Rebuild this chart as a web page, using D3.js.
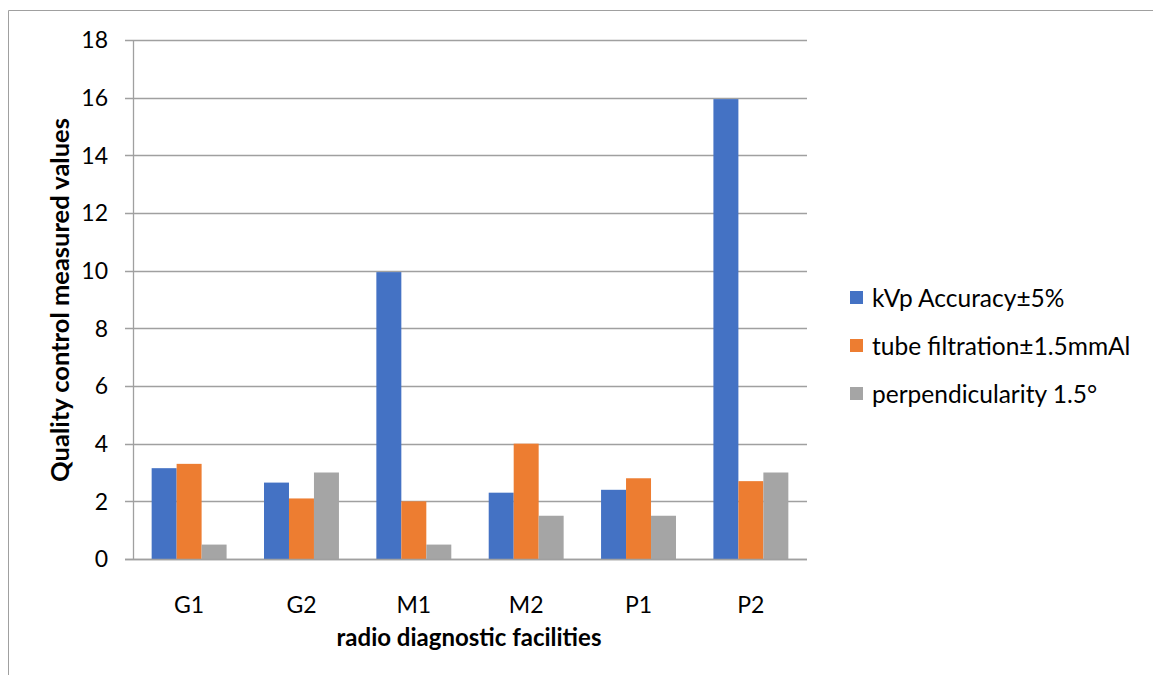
<!DOCTYPE html>
<html>
<head>
    <script src="https://d3js.org/d3.v7.min.js"></script>
    <style>
        body { margin: 0; background: #fff; }
        text { font-family: Lato, "Open Sans", sans-serif; fill: #000; }
    </style>
</head>
<body>
    <div id="chart"></div>
    <script>
        // data
        var facilities = ["G1", "G2", "M1", "M2", "P1", "P2"];
        var seriesNames = ["kVp Accuracy±5%", "tube filtration±1.5mmAl", "perpendicularity 1.5°"];
        var kvpAccuracy = [3.15, 2.65, 9.95, 2.3, 2.4, 15.95];
        var tubeFiltration = [3.3, 2.1, 2.0, 4.0, 2.8, 2.7];
        var perpendicularity = [0.5, 3.0, 0.5, 1.5, 1.5, 3.0];
        var yTicks = [0, 2, 4, 6, 8, 10, 12, 14, 16, 18];
        var colors = ["#4472c4", "#ed7d31", "#a5a5a5"];

        function program() {
            var width = 1153, height = 675;
            var svg = d3.select("#chart").append("svg")
                .attr("width", width)
                .attr("height", height);

            // outer frame (runs off right and bottom edges)
            svg.append("path")
                .attr("d", "M8.5,675 V10.5 H1153")
                .attr("fill", "none")
                .attr("stroke", "#a0a0a0")
                .attr("stroke-width", 1);

            var pLeft = 133, pRight = 807, pTop = 40, pBottom = 559;

            var x = d3.scaleBand().domain(facilities).range([pLeft, pRight]).paddingInner(0.333).paddingOuter(0.166);
            var xs = d3.scaleBand().domain([0, 1, 2]).range([0, x.bandwidth()]);
            var y = d3.scaleLinear().domain([0, 18]).range([pBottom, pTop]);

            // gridlines
            svg.append("g").selectAll("line")
                .data(yTicks)
                .join("line")
                .attr("x1", pLeft - 8).attr("x2", pRight)
                .attr("y1", d => Math.round(y(d)) + 0.5)
                .attr("y2", d => Math.round(y(d)) + 0.5)
                .attr("stroke", "#a0a0a0")
                .attr("stroke-width", 1.3);

            // y axis line
            svg.append("line")
                .attr("x1", pLeft + 0.5).attr("x2", pLeft + 0.5)
                .attr("y1", pTop).attr("y2", pBottom)
                .attr("stroke", "#a0a0a0")
                .attr("stroke-width", 1.3);

            // y tick labels
            svg.append("g").selectAll("text")
                .data(yTicks)
                .join("text")
                .attr("x", 108)
                .attr("y", d => y(d))
                .attr("dy", "0.36em")
                .attr("text-anchor", "end")
                .style("font-size", "23px")
                .text(d => d);

            var series = [kvpAccuracy, tubeFiltration, perpendicularity];
            var rows = [];
            facilities.forEach(function (f, i) {
                series.forEach(function (s, j) {
                    rows.push({ f: f, j: j, v: s[i] });
                });
            });

            svg.append("g").selectAll("rect")
                .data(rows)
                .join("rect")
                .attr("x", d => x(d.f) + xs(d.j))
                .attr("width", xs.bandwidth())
                .attr("y", d => y(d.v))
                .attr("height", d => y(0) - y(d.v))
                .attr("fill", d => colors[d.j]);

            // baseline drawn over bars
            svg.append("line")
                .attr("x1", pLeft - 8).attr("x2", pRight)
                .attr("y1", Math.round(y(0)) + 0.5).attr("y2", Math.round(y(0)) + 0.5)
                .attr("stroke", "#a0a0a0")
                .attr("stroke-width", 1.3);

            // x tick labels
            svg.append("g").selectAll("text")
                .data(facilities)
                .join("text")
                .attr("x", d => x(d) + x.bandwidth() / 2)
                .attr("y", 613)
                .attr("text-anchor", "middle")
                .style("font-size", "23px")
                .text(d => d);

            // axis titles
            svg.append("text")
                .attr("x", 469)
                .attr("y", 646)
                .attr("text-anchor", "middle")
                .style("font-size", "24px")
                .style("font-weight", "bold")
                .text("radio diagnostic facilities");

            svg.append("text")
                .attr("transform", "translate(69,300) rotate(-90)")
                .attr("text-anchor", "middle")
                .style("font-size", "25.5px")
                .style("font-weight", "bold")
                .text("Quality control measured values");

            // legend
            var legend = svg.append("g").selectAll("g")
                .data(seriesNames)
                .join("g")
                .attr("transform", (d, i) => "translate(850," + (298 + i * 48) + ")");

            legend.append("rect")
                .attr("x", 0).attr("y", -7)
                .attr("width", 13).attr("height", 13)
                .attr("fill", (d, i) => colors[i]);

            legend.append("text")
                .attr("x", 22)
                .attr("y", 0)
                .attr("dy", "0.36em")
                .style("font-size", "24.5px")
                .text(d => d);
        }

        program();
    </script>
</body>
</html>
